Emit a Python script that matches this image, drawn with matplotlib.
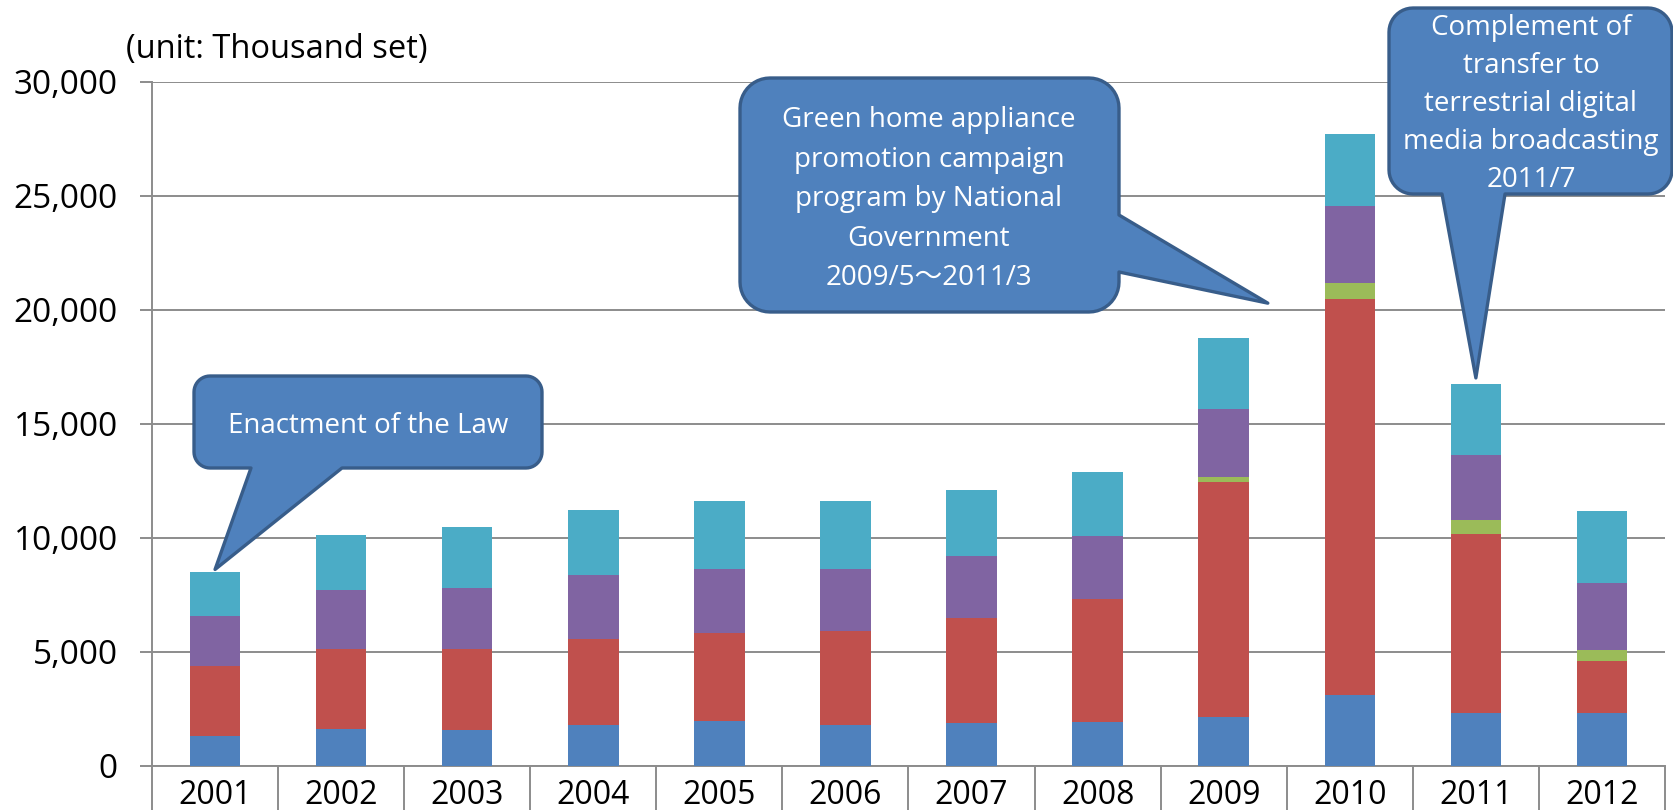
import matplotlib
matplotlib.use("Agg")
import matplotlib.pyplot as plt
import numpy as np
from matplotlib.patches import PathPatch
from matplotlib.path import Path
from matplotlib.ticker import FuncFormatter

# Шрифт: Open Sans + CJK для полноширинной тильды
plt.rcParams['font.family'] = ['Open Sans', 'Noto Sans CJK JP', 'DejaVu Sans']

# Данные (тыс. шт.)
years = ["2001", "2002", "2003", "2004", "2005", "2006",
         "2007", "2008", "2009", "2010", "2011", "2012"]
air_con = [1320, 1620, 1560, 1780, 1970, 1800, 1870, 1940, 2150, 3130, 2320, 2320]
crt_tv = [3070, 3530, 3570, 3800, 3860, 4140, 4620, 5380, 10320, 17370, 7870, 2290]
flat_tv = [0, 0, 0, 0, 0, 0, 0, 0, 220, 670, 600, 480]
fridge = [2190, 2550, 2660, 2810, 2820, 2710, 2720, 2770, 2980, 3390, 2850, 2940]
washer = [1940, 2430, 2680, 2820, 2990, 2960, 2910, 2820, 3090, 3140, 3130, 3140]

unit_label = "(unit: Thousand set)"
note_law = ["Enactment of the Law"]
note_green = ["Green home appliance", "promotion campaign", "program by National",
              "Government", "2009/5\uff5e2011/3"]
note_digital = ["Complement of", "transfer to", "terrestrial digital",
                "media broadcasting", "2011/7"]

series = [air_con, crt_tv, flat_tv, fridge, washer]
colors = ["#4F81BD", "#C0504D", "#9BBB59", "#8064A2", "#4BACC6"]
GRAY = "#8C8C8C"
BUBBLE_FACE = "#4F81BD"
BUBBLE_EDGE = "#385D8A"

W, H = 1674, 810
fig = plt.figure(figsize=(W / 100, H / 100), dpi=100)
fig.patch.set_facecolor("white")
ax = fig.add_axes([152 / W, 1 - 766 / H, (1665 - 152) / W, (766 - 82) / H])

x = np.arange(len(years))
bottom = np.zeros(len(years))
for vals, c in zip(series, colors):
    ax.bar(x, vals, 0.4, bottom=bottom, color=c, linewidth=0, zorder=3)
    bottom += np.array(vals)
totals = bottom

# Оси
ax.set_xlim(-0.5, len(years) - 0.5)
ax.set_ylim(0, 30000)
ax.set_yticks(np.arange(0, 30001, 5000))
ax.yaxis.set_major_formatter(FuncFormatter(lambda v, p: f"{int(v):,}"))
ax.set_xticks(x)
ax.set_xticklabels(years)
ax.set_xticks(np.arange(-0.5, len(years)), minor=True)
ax.tick_params(axis='x', which='major', length=0, labelsize=23, pad=9)
ax.tick_params(axis='x', which='minor', length=34, width=1.4, color=GRAY, direction='out')
ax.tick_params(axis='y', length=8.6, width=1.4, color=GRAY, labelsize=24, pad=16)
ax.grid(axis='y', color=GRAY, linewidth=1.4, zorder=0)
ax.set_axisbelow(True)
for s in ['top', 'right']:
    ax.spines[s].set_visible(False)
for s in ['left', 'bottom']:
    ax.spines[s].set_color(GRAY)
    ax.spines[s].set_linewidth(1.4)

fig.text(126 / W, 1 - 58 / H, unit_label, fontsize=23.5, ha='left', va='baseline')


def to_px(xd, yd):
    """Точка данных -> пиксели (y вниз от верха)."""
    dx, dy = ax.transData.transform((xd, yd))
    return dx, H - dy


def arc(cx, cy, r, t0, t1):
    t = np.linspace(t0, t1, 12)
    return list(zip(cx + r * np.cos(t), cy + r * np.sin(t)))


def bubble(x0, y0, x1, y1, tip, side, a, b, r=16):
    """Скруглённая выноска с хвостом; координаты в пикселях, y вниз."""
    pts = [(x0 + r, y0), (x1 - r, y0)]
    pts += arc(x1 - r, y0 + r, r, -np.pi / 2, 0)
    if side == 'right':
        lo, hi = sorted((a, b))
        pts += [(x1, lo), tip, (x1, hi)]
    pts += [(x1, y1 - r)]
    pts += arc(x1 - r, y1 - r, r, 0, np.pi / 2)
    if side == 'bottom':
        lo, hi = sorted((a, b))
        pts += [(hi, y1), tip, (lo, y1)]
    pts += [(x0 + r, y1)]
    pts += arc(x0 + r, y1 - r, r, np.pi / 2, np.pi)
    pts += [(x0, y0 + r)]
    pts += arc(x0 + r, y0 + r, r, np.pi, 1.5 * np.pi)
    verts = [(px / 100, (H - py) / 100) for px, py in pts]
    verts.append(verts[0])
    codes = [Path.MOVETO] + [Path.LINETO] * (len(verts) - 2) + [Path.CLOSEPOLY]
    patch = PathPatch(Path(verts, codes), facecolor=BUBBLE_FACE, edgecolor=BUBBLE_EDGE,
                      lw=2.4, joinstyle='round', transform=fig.dpi_scale_trans, zorder=5)
    fig.add_artist(patch)


def bubble_text(lines, cx, cy, step, size):
    n = len(lines)
    for i, line in enumerate(lines):
        yy = cy + (i - (n - 1) / 2) * step
        fig.text(cx / W, 1 - yy / H, line, color='white', fontsize=size,
                 ha='center', va='center', zorder=6)


# Выноска 1: принятие закона
tip1 = to_px(0, totals[0] + 100)
bubble(194, 376, 542, 468, tip1, 'bottom', 251, 342)
bubble_text(note_law, 368, 426, 0, 20)

# Выноска 2: программа "зелёной" техники
tip2 = to_px(8.35, 20300)
bubble(740, 78, 1119, 312, tip2, 'right', 215, 272, r=30)
bubble_text(note_green, 929, 199, 39.5, 20)

# Выноска 3: переход на цифровое вещание
tip3 = to_px(10, totals[10] + 250)
bubble(1389, 8, 1672, 194, tip3, 'bottom', 1442, 1505, r=24)
bubble_text(note_digital, 1531, 104, 38.2, 20)

fig.savefig("out.png", dpi=100, facecolor="white")
